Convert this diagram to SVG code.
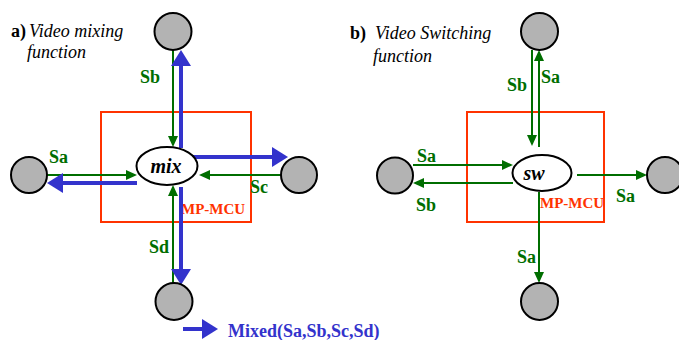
<svg xmlns="http://www.w3.org/2000/svg" width="679" height="340" viewBox="0 0 679 340">
<style>
.nd{fill:#b3b3b3;stroke:#000;stroke-width:2}
.el{fill:#fff;stroke:#000;stroke-width:2}
.box{fill:none;stroke:#ff3300;stroke-width:2}
.g{stroke:#006e00;stroke-width:2;fill:none;marker-end:url(#ga)}
.b{stroke:#3333cc;stroke-width:4;fill:none;marker-end:url(#ba)}
text{font-family:'Liberation Serif','Times New Roman',serif}
.lbl{font-weight:bold;font-size:18px;fill:#006e00}
.mcu{font-weight:bold;font-size:15px;fill:#ff3300}
.fn{font-weight:bold;font-style:italic;font-size:20px;fill:#000}
.ttl{font-style:italic;font-size:18px;fill:#000}
.tb{font-weight:bold;font-size:18px;fill:#000}
.leg{font-weight:bold;font-size:18px;fill:#3333cc}
</style>
<defs>
<marker id="ga" markerUnits="userSpaceOnUse" markerWidth="11" markerHeight="10" refX="9" refY="5" orient="auto"><path d="M0,0 L11,5 L0,10 z" fill="#006e00"/></marker>
<marker id="ba" markerUnits="userSpaceOnUse" markerWidth="16" markerHeight="20" refX="10" refY="10" orient="auto"><path d="M0,0 L16,10 L0,20 z" fill="#3333cc"/></marker>
</defs>

<g id="title-a"><text x="11" y="37" class="tb">a)</text><text x="29" y="37" class="ttl">Video mixing</text><text x="27" y="58" class="ttl">function</text></g>
<g id="title-b"><text x="350" y="39" class="tb">b)</text><text x="375" y="39" class="ttl">Video Switching</text><text x="373" y="62" class="ttl">function</text></g>

<g id="mcu-a"><rect x="101" y="112" width="150" height="110" class="box"/><text x="181" y="214" class="mcu">MP-MCU</text></g>
<g id="mcu-b"><rect x="467" y="112" width="137" height="110" class="box"/><text x="540" y="208" class="mcu">MP-MCU</text></g>

<g id="connectors">
<line x1="173" y1="50" x2="173" y2="145" class="g"/>
<line x1="181" y1="148" x2="181" y2="56" class="b"/>
<line x1="192" y1="157" x2="282" y2="157" class="b"/>
<line x1="47" y1="175" x2="135" y2="175" class="g"/>
<line x1="137" y1="183" x2="53" y2="183" class="b"/>
<line x1="281" y1="175" x2="201" y2="175" class="g"/>
<line x1="173" y1="283" x2="173" y2="187" class="g"/>
<line x1="181" y1="187" x2="181" y2="279" class="b"/>
<line x1="183" y1="329" x2="212" y2="329" class="b"/>

<line x1="532" y1="50" x2="532" y2="144" class="g"/>
<line x1="539" y1="147" x2="539" y2="52" class="g"/>
<line x1="413" y1="165" x2="511" y2="165" class="g"/>
<line x1="513" y1="183" x2="415" y2="183" class="g"/>
<line x1="577" y1="175" x2="645" y2="175" class="g"/>
<line x1="539" y1="192" x2="539" y2="281" class="g"/>
</g>

<g id="labels">
<text x="140" y="83" class="lbl">Sb</text>
<text x="49" y="163" class="lbl">Sa</text>
<text x="250" y="193" class="lbl">Sc</text>
<text x="149" y="253" class="lbl">Sd</text>
<text x="228" y="337" class="leg">Mixed(Sa,Sb,Sc,Sd)</text>

<text x="507" y="91" class="lbl">Sb</text>
<text x="541" y="83" class="lbl">Sa</text>
<text x="417" y="162" class="lbl">Sa</text>
<text x="416" y="211" class="lbl">Sb</text>
<text x="616" y="202" class="lbl">Sa</text>
<text x="517" y="263" class="lbl">Sa</text>
</g>

<g id="mix"><ellipse cx="167" cy="166" rx="30.5" ry="19" class="el"/><text x="166" y="173" text-anchor="middle" class="fn">mix</text></g>
<g id="sw"><ellipse cx="542" cy="173" rx="29.5" ry="18" class="el"/><text x="534" y="180" text-anchor="middle" class="fn">sw</text></g>

<g id="a-top"><circle cx="173" cy="31.5" r="18.5" class="nd"/></g>
<g id="a-left"><circle cx="29" cy="175" r="18" class="nd"/></g>
<g id="a-right"><circle cx="299" cy="175" r="18" class="nd"/></g>
<g id="a-bottom"><circle cx="174" cy="301.5" r="18.5" class="nd"/></g>

<g id="b-top"><circle cx="539.5" cy="31.5" r="18.5" class="nd"/></g>
<g id="b-left"><circle cx="395" cy="175.5" r="18" class="nd"/></g>
<g id="b-right"><circle cx="665" cy="175" r="18" class="nd"/></g>
<g id="b-bottom"><circle cx="539.5" cy="301.5" r="18.5" class="nd"/></g>
</svg>
